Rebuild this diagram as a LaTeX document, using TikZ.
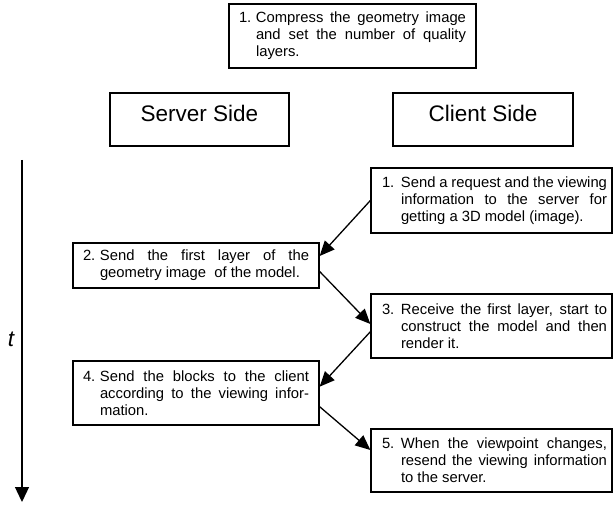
\documentclass[tikz,border=0pt]{standalone}
\usepackage{fontspec}
\setmainfont{Liberation Sans}
\usetikzlibrary{arrows.meta}
\newcommand{\jline}[1]{\makebox[\linewidth][s]{#1}\par}
\newcommand{\numpar}[4][0pt]{\noindent\spaceskip=0pt\xspaceskip=0pt\hspace*{#1}\makebox[#2][l]{#3}\parbox[t]{\dimexpr\hsize-#1-#2\relax}{#4}}

\begin{document}
\begin{tikzpicture}[x=1pt,y=1pt]
\tikzstyle{every node}+=[inner sep=0pt]
\tikzstyle{sidebox}=[draw, line width=1.3pt, minimum width=179pt, text height=28.7pt, text depth=24.3pt, font=\fontsize{22.5}{27}\selectfont]
\tikzstyle{stepbox}=[draw, line width=1.3pt, font=\fontsize{14.8}{17}\selectfont]
\tikzstyle{srvbox}=[stepbox, text width=226pt, inner xsep=10pt]
\tikzstyle{clibox}=[stepbox, text width=231pt, inner xsep=5pt]
\tikzstyle{msg}=[line width=1.3pt, -{Triangle[length=15pt,width=13pt]}]
\useasboundingbox (0,0) rectangle (613,-505);
\draw (352.5,-36) node (compress) [stepbox, text width=227pt, inner xsep=10pt, minimum height=64pt] {\numpar{17pt}{1.}{\jline{Compress the geometry image}\jline{and set the number of quality}layers.}};
\draw (199.5,-119.5) node (server) [sidebox] {Server Side};
\draw (483,-119.5) node (client) [sidebox, minimum width=180pt] {Client Side};
\draw (491.5,-200.5) node (b1) [clibox, minimum height=65pt] {\numpar[6pt]{19pt}{1.}{\jline{Send a request and the viewing}\jline{information to the server for}getting a 3D model (image).}};
\draw (196,-265.5) node (b2) [srvbox, minimum height=45pt] {\numpar{17pt}{2.}{\jline{Send the first layer of the}geometry image\ \ of the model.}};
\draw (491.5,-326) node (b3) [clibox, minimum height=64pt] {\numpar[6pt]{19pt}{3.}{\jline{Receive the first layer, start to}\jline{construct the model and then}render it.}};
\draw (196,-393) node (b4) [srvbox, minimum height=64pt] {\numpar{17pt}{4.}{\jline{Send the blocks to the client}\jline{according to the viewing infor-}mation.}};
\draw (491.5,-460.5) node (b5) [clibox, minimum height=63pt] {\numpar[6pt]{19pt}{5.}{\jline{When the viewpoint changes,}\jline{resend the viewing information}to the server.}};
% time axis
\coordinate (tstart) at (22,-160);
\coordinate (tend) at (22,-502);
\draw [line width=1.3pt, -{Triangle[length=15pt,width=14pt]}] (tstart) -- (tend);
\draw (11,-339) node (tlabel) [font=\itshape\fontsize{22.5}{27}\selectfont] {t};
% messages
\draw [msg] (b1.west) -- ([yshift=9.5pt]b2.east);
\draw [msg] ([yshift=-6pt]b2.east) -- ([yshift=2pt]b3.west);
\draw [msg] ([yshift=-5.7pt]b3.west) -- ([yshift=6.3pt]b4.east);
\draw [msg] ([yshift=-13.7pt]b4.east) -- ([yshift=10.5pt]b5.west);
\end{tikzpicture}
\end{document}
